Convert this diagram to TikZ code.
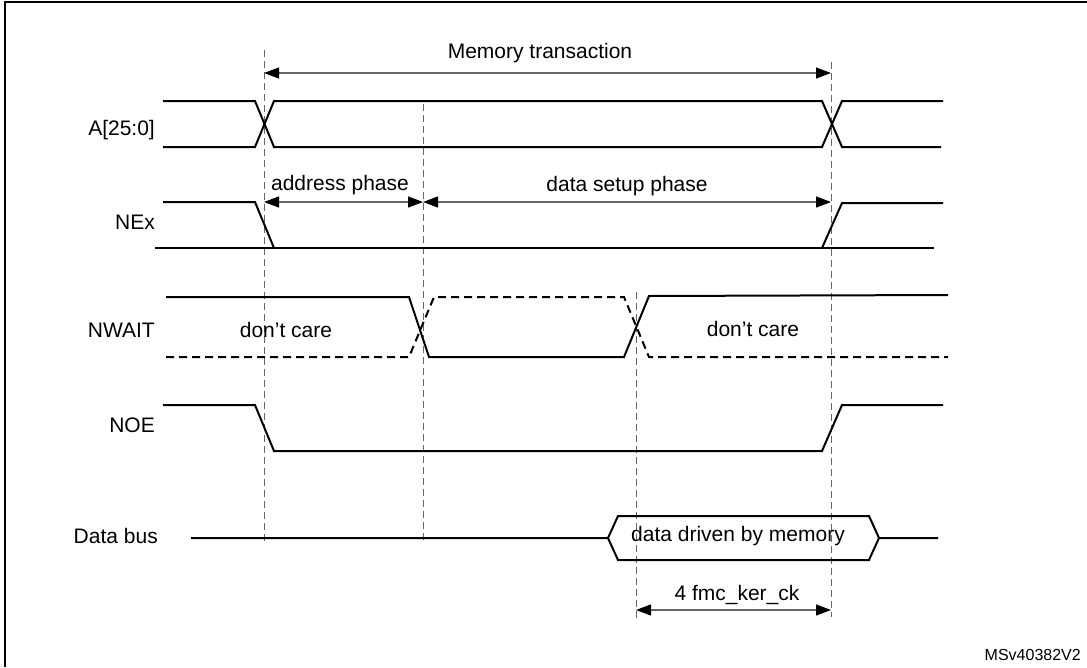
\documentclass[tikz,border=0pt]{standalone}
\usepackage{fontspec}
\setmainfont{Liberation Sans}
\usetikzlibrary{arrows.meta}
\def\tip{Triangle[length=15pt,width=11pt,color=black]}
\tikzset{
	sig/.style={line width=2pt, line join=miter},
	dontcare/.style={sig, dash pattern=on 8pt off 5pt},
	guide/.style={line width=1pt, color=black!60, dash pattern=on 7pt off 4pt},
	span/.style={line width=1.2pt, color=black!60, \tip-\tip},
	lbl/.style={font=\fontsize{21}{24}\selectfont, inner sep=0pt},
}

\begin{document}
\begin{tikzpicture}[x=1pt, y=-1pt]
			%%%%% START %%%%%
			\useasboundingbox (0,0) rectangle (1087,667);
			\draw[line width=2pt] (5,667) -- (5,2) -- (1087,2);
			
			% guide lines
			\coordinate (g1t) at (264,50);  \coordinate (g1b) at (264,542);
			\coordinate (g2t) at (423,104); \coordinate (g2b) at (423,542);
			\coordinate (g3t) at (636,292); \coordinate (g3b) at (636,618);
			\coordinate (g4t) at (831,62);  \coordinate (g4b) at (831,617);
			\draw[guide] (g1t) -- (g1b);
			\draw[guide] (g2t) -- (g2b);
			\draw[guide] (g3t) -- (g3b);
			\draw[guide] (g4t) -- (g4b);
			
			% spans
			\coordinate (rowMT) at (0,73);
			\coordinate (rowPH) at (0,202);
			\coordinate (rowCK) at (0,610);
			\draw[span] (g1t |- rowMT) -- (g4t |- rowMT);
			\draw[span] (g1t |- rowPH) -- (g2t |- rowPH);
			\draw[span] (g2t |- rowPH) -- (g4t |- rowPH);
			\draw[span] (g3t |- rowCK) -- (g4t |- rowCK);
			\node[lbl] (mtlbl) at (540,53) {Memory transaction};
			\node[lbl] (aplbl) at (340,185) {address phase};
			\node[lbl] (dsplbl) at (627,186) {data setup phase};
			\node[lbl] (cklbl) at (737,595) {4 fmc\_ker\_ck};
			
			% signal names
			\node[lbl, anchor=east] (sigA) at (155,130) {A[25:0]};
			\node[lbl, anchor=east] (sigNE) at (155,222) {NEx};
			\node[lbl, anchor=east] (sigNW) at (155,330) {NWAIT};
			\node[lbl, anchor=east] (sigNOE) at (155,425) {NOE};
			\node[lbl, anchor=east] (sigD) at (158,536) {Data bus};
			
			% A[25:0]
			\draw[sig] (163,101) -- (255,101) -- (274,147) -- (822,147) -- (842,101) -- (943,101);
			\draw[sig] (163,147) -- (255,147) -- (274,101) -- (822,101) -- (842,147) -- (941,147);
			
			% NEx
			\draw[sig] (163,202) -- (255,202) -- (274,248);
			\draw[sig] (155,248) -- (934,248);
			\draw[sig] (822,248) -- (842,203) -- (943,203);
			
			% NWAIT
			\draw[sig] (166,297) -- (409,297) -- (429,357) -- (624,357) -- (649,296) -- (948,295);
			\draw[dontcare] (166,357) -- (409,357) -- (434,297) -- (624,297) -- (649,357) -- (948,357);
			\node[lbl] (dc1) at (286,330) {don't care};
			\node[lbl] (dc2) at (753,329) {don't care};
			
			% NOE
			\draw[sig] (163,405) -- (255,405) -- (274,451) -- (822,451) -- (842,405) -- (943,405);
			
			% Data bus
			\draw[sig] (191,538) -- (608,538) -- (618,516) -- (869,516) -- (879,538) -- (938,538);
			\draw[sig] (608,538) -- (618,560) -- (869,560) -- (879,538);
			\node[lbl] (dbtxt) at (738,536) {data driven by memory};
			
			\node[font=\fontsize{16}{18}\selectfont, inner sep=0pt, anchor=south east] (docid) at (1081,661) {MSv40382V2};
			%%%%% END %%%%%
\end{tikzpicture}
\end{document}
